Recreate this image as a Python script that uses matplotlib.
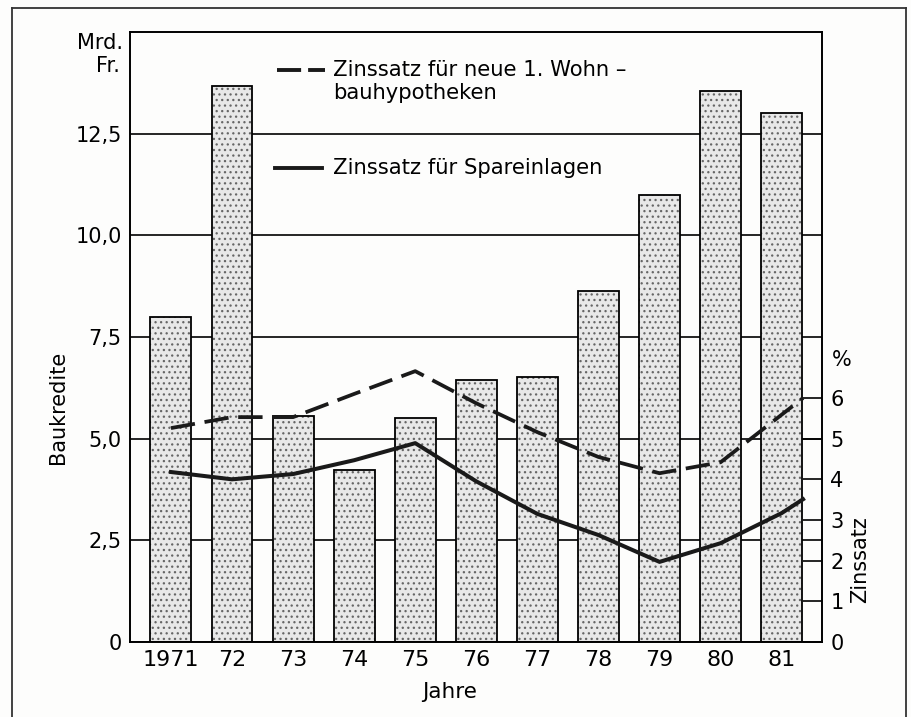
import matplotlib
matplotlib.use("Agg")
from matplotlib import pyplot as plt
from matplotlib.lines import Line2D

plt.rcParams['font.family'] = ['DejaVu Sans']
plt.rcParams['hatch.linewidth'] = 0.9

# Baukredite in Mrd. Fr.
jahre = ["1971", "72", "73", "74", "75", "76", "77", "78", "79", "80", "81"]
baukredite = [8.0, 13.68, 5.56, 4.22, 5.51, 6.45, 6.52, 8.63, 11.0, 13.55, 13.0]

# Zinssatz in %, x = Jahr-Index (letzter Punkt am Ende von 1981)
hypo_x = [0, 1, 2, 3, 4, 5, 6, 7, 8, 9, 10.35]
hypo = [5.26, 5.53, 5.53, 6.1, 6.66, 5.87, 5.16, 4.55, 4.15, 4.42, 6.0]
spar_x = [0, 1, 2, 3, 4, 5, 6, 7, 8, 9, 10, 10.35]
spar = [4.18, 4.0, 4.13, 4.47, 4.89, 3.95, 3.15, 2.63, 1.97, 2.43, 3.17, 3.51]

y_ticks = [0, 2.5, 5, 7.5, 10, 12.5]
y_labels = ["0", "2,5", "5,0", "7,5", "10,0", "12,5"]
z_ticks = [0, 1, 2, 3, 4, 5, 6]

W, H = 912, 717


def px(x, y):
    return x / W, 1 - y / H


fig = plt.figure(figsize=(9.12, 7.17), dpi=100, facecolor='#fdfdfc')
ax = fig.add_axes([130 / W, 1 - 642 / H, 692 / W, 610 / H])
ax.set_facecolor('none')

x = range(len(jahre))
ax.bar(x, baukredite, width=0.67, color='#e8e8e8', hatch='...',
       edgecolor='#666666', linewidth=0, zorder=2)
ax.bar(x, baukredite, width=0.67, fill=False, edgecolor='black',
       linewidth=1.3, zorder=3)

ax.set_xlim(-0.67, 10.66)
ax.set_ylim(0, 15)
ax.set_yticks(y_ticks, y_labels)
ax.set_xticks(list(x), jahre)
ax.yaxis.grid(True, color='black', linewidth=1.2)
ax.set_axisbelow(True)
ax.tick_params(axis='y', length=0, pad=6, labelsize=15)
ax.tick_params(axis='x', length=0, pad=6, labelsize=16)
for s in ax.spines.values():
    s.set_linewidth(1.4)

ax2 = ax.twinx()
ax2.set_ylim(0, 15)
ax2.set_yticks(z_ticks)
ax2.tick_params(axis='y', direction='in', length=14, width=1.2, pad=6,
                labelsize=15)
for s in ax2.spines.values():
    s.set_visible(False)

ax2.plot(hypo_x, hypo, color='#1a1a1a', lw=2.7, linestyle=(0, (6.5, 2.6)),
         dash_capstyle='butt')
ax2.plot(spar_x, spar, color='#1a1a1a', lw=2.9, solid_joinstyle='round')

# Legende
ax2.add_line(Line2D([0.2125, 0.282], [0.938, 0.938], transform=ax2.transAxes,
                    color='#1a1a1a', lw=2.8, linestyle=(0, (6.2, 1.8)),
                    dash_capstyle='butt'))
ax2.add_line(Line2D([0.209, 0.278], [0.777, 0.777], transform=ax2.transAxes,
                    color='#1a1a1a', lw=2.8))
ax2.text(0.293, 0.938, "Zinssatz für neue 1. Wohn –", transform=ax2.transAxes,
         va='center', ha='left', fontsize=15.2)
ax2.text(0.293, 0.900, "bauhypotheken", transform=ax2.transAxes,
         va='center', ha='left', fontsize=15.2)
ax2.text(0.293, 0.777, "Zinssatz für Spareinlagen", transform=ax2.transAxes,
         va='center', ha='left', fontsize=15.2)

# Achsentitel
fig.text(*px(123, 43), "Mrd.", ha='right', va='center', fontsize=15)
fig.text(*px(120, 66), "Fr.", ha='right', va='center', fontsize=15)
fig.text(*px(58, 407), "Baukredite", rotation=90, ha='center', va='center',
         fontsize=15)
fig.text(*px(842, 360), "%", ha='center', va='center', fontsize=15)
fig.text(*px(860, 560), "Zinssatz", rotation=90, ha='center', va='center',
         fontsize=15)
fig.text(*px(450, 692), "Jahre", ha='center', va='center', fontsize=15.5)

# Rahmen
for xs, ys in [([12, 12], [H, 8]), ([12, 906], [8, 8]), ([906, 906], [8, H])]:
    fig.add_artist(Line2D([a / W for a in xs], [1 - b / H for b in ys],
                          transform=fig.transFigure, color='#333333', lw=1.3))

fig.savefig("out.png", dpi=100, facecolor=fig.get_facecolor())
